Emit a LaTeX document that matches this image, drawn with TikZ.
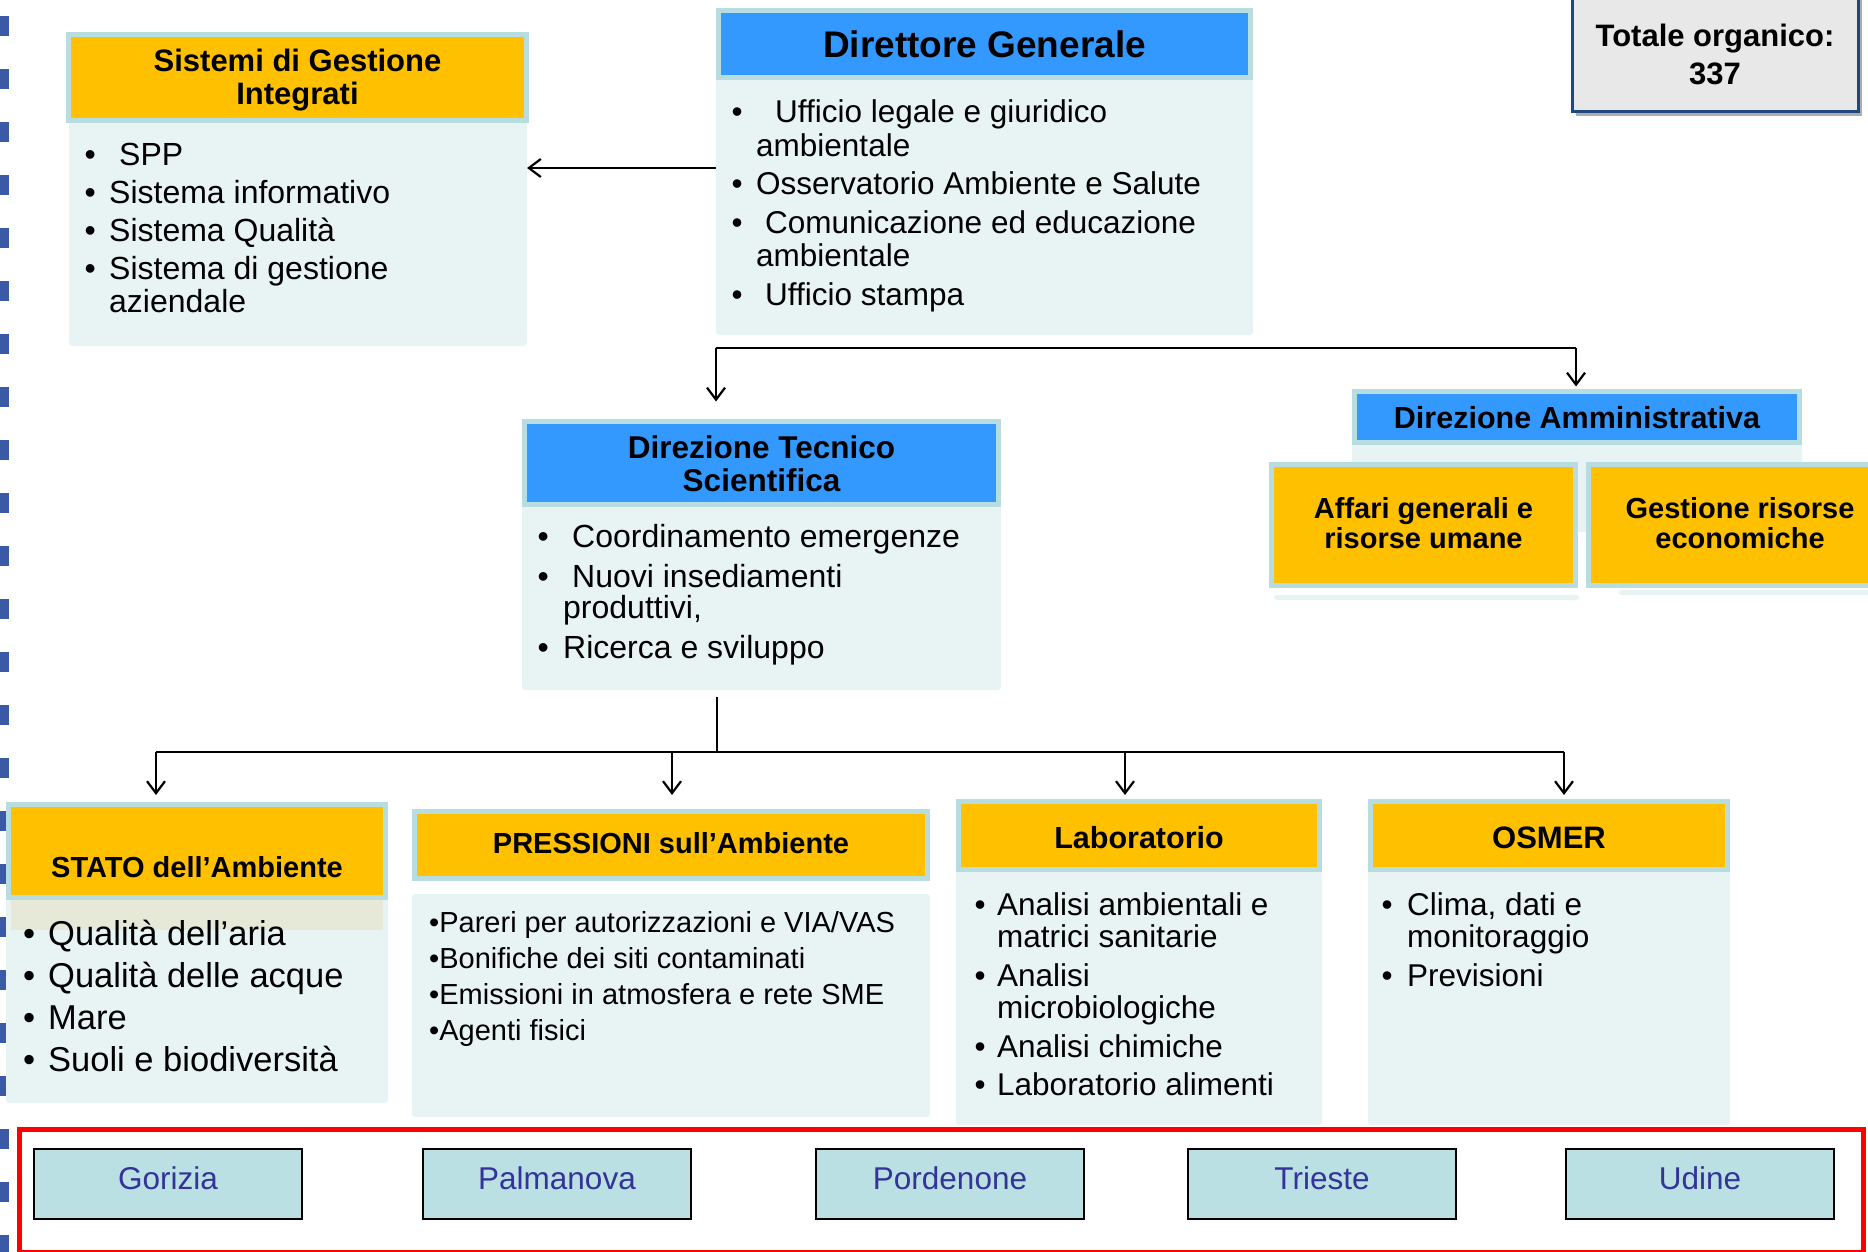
\documentclass[tikz,border=0pt]{standalone}
\usepackage{fontspec}
\setmainfont{Liberation Sans}
\usetikzlibrary{arrows.meta,shadows}
\definecolor{orng}{HTML}{FFC000}
\definecolor{blu}{HTML}{3399FF}
\definecolor{hbord}{HTML}{B7DDE0}
\definecolor{bodyc}{HTML}{E8F4F4}
\definecolor{cityc}{HTML}{BBE0E3}
\definecolor{cityt}{HTML}{333399}
\definecolor{totc}{HTML}{E8E8E8}
\definecolor{navy}{HTML}{1F497D}
\definecolor{sqc}{HTML}{3A5AA6}
\definecolor{stripc}{HTML}{E6E9D8}
\definecolor{redc}{HTML}{FF0000}
\newlength\bhang
\newcommand\bit[2]{\par\hangindent=\bhang\hangafter=1\noindent\makebox[\bhang][l]{•}\hspace*{#1}#2}
\newcommand\blist[5]{\parbox[t]{700pt}{\raggedright\fontsize{#1}{#2}\selectfont\setlength\parskip{#3}\setlength\bhang{#4}#5}}
\newcommand\ttwo[3]{\parbox[t]{500pt}{\centering\fontsize{#1}{#2}\selectfont\bfseries #3}}
\newcommand\bx[6]{\node[#2, minimum width={#5pt-#3pt}, minimum height={#6pt-#4pt}] (#1) at (#3,#4) {};}
\tikzset{
 box/.style={rectangle, inner sep=0pt, outer sep=0pt, anchor=north west},
 hdrO/.style={box, draw=hbord, line width=5pt, fill=orng},
 hdrB/.style={box, draw=hbord, line width=5pt, fill=blu},
 bodyb/.style={box, fill=bodyc, rounded corners=3pt},
 stripb/.style={box, fill=stripc},
 city/.style={box, draw=black, line width=2pt, fill=cityc, text=cityt,
   font=\fontsize{31.5}{36}\selectfont, text height=22pt, text depth=11pt,
   minimum width=268pt, minimum height=70pt},
 conn/.style={line width=2.2pt, draw=black},
 arr/.style={conn, -{Straight Barb[length=12pt,width=18pt,line width=2.2pt]}},
 ttl/.style={inner sep=0pt, anchor=base},
 lst/.style={inner sep=0pt, anchor=base west},
}
\begin{document}
\begin{tikzpicture}[x=1pt,y=-1pt]
\useasboundingbox (0,0) rectangle (1868,1252);
\fill[white] (0,0) rectangle (1868,1252);
% left edge marks
\foreach \k in {0,...,23} \fill[sqc] (0,{16+53*\k}) rectangle (9,{36+53*\k});

% bodies
\bx{sisB}{bodyb}{69}{120}{527}{346}
\bx{dgB}{bodyb}{716}{78}{1253}{335}
\bx{dtsB}{bodyb}{522}{505}{1001}{690}
\bx{daB}{bodyb}{1352}{443}{1802}{532}
\bx{afS}{bodyb}{1274}{595}{1579}{600}
\bx{geS}{bodyb}{1619}{590}{1880}{595}
\bx{stB}{bodyb}{6}{898}{388}{1103}
\bx{stS}{stripb}{11}{900}{383}{930}
\bx{prB}{bodyb}{412}{894}{930}{1117}
\bx{labB}{bodyb}{956}{870}{1322}{1125}
\bx{osB}{bodyb}{1368}{870}{1730}{1125}

% headers
\bx{sisH}{hdrO}{68.5}{34.5}{526.5}{120.5}
\bx{dgH}{hdrB}{718.5}{10.5}{1250.5}{77.5}
\bx{dtsH}{hdrB}{524.5}{421.5}{998.5}{504.5}
\bx{daH}{hdrB}{1354.5}{391.5}{1799.5}{442.5}
\bx{afH}{hdrO}{1271.5}{464.5}{1575.5}{585.5}
\bx{geH}{hdrO}{1588.5}{464.5}{1894}{585.5}
\bx{stH}{hdrO}{8.5}{804.5}{385.5}{897.5}
\bx{prH}{hdrO}{414.5}{811.5}{927.5}{878.5}
\bx{labH}{hdrO}{958.5}{801.5}{1319.5}{869.5}
\bx{osH}{hdrO}{1370.5}{801.5}{1727.5}{869.5}

% total box
\node[box, draw=navy, line width=3pt, fill=totc,
  drop shadow={shadow xshift=4pt, shadow yshift=-5pt, fill=black!32, opacity=1},
  minimum width=286pt, minimum height=121.5pt] (tot) at (1572,-10) {};
\node[ttl] (totT) at (1715,47) {\ttwo{31}{38}{Totale organico:\\337}};

% titles
\node[ttl] (sisT) at (297.5,72) {\ttwo{31}{33}{Sistemi di Gestione\\Integrati}};
\node[ttl] (dgT) at (984.5,58) {\fontsize{37}{44}\selectfont\bfseries Direttore Generale};
\node[ttl] (dtsT) at (761.5,458) {\ttwo{31.5}{33}{Direzione Tecnico\\Scientifica}};
\node[ttl] (daT) at (1577,428) {\fontsize{30.5}{36}\selectfont\bfseries Direzione Amministrativa};
\node[ttl] (afT) at (1423.5,518) {\ttwo{29}{30}{Affari generali e\\risorse umane}};
\node[ttl] (geT) at (1740,518) {\ttwo{29}{30}{Gestione risorse\\economiche}};
\node[ttl] (stT) at (197,877) {\fontsize{29}{34}\selectfont\bfseries STATO dell’Ambiente};
\node[ttl] (prT) at (671,853) {\fontsize{29}{34}\selectfont\bfseries PRESSIONI sull’Ambiente};
\node[ttl] (labT) at (1139,848) {\fontsize{30.5}{36}\selectfont\bfseries Laboratorio};
\node[ttl] (osT) at (1549,848) {\fontsize{31}{36}\selectfont\bfseries OSMER};

% lists
\node[lst] (sisL) at (84.5,166) {\blist{32}{33}{5pt}{24.5pt}{%
 \bit{10pt}{SPP}\bit{0pt}{Sistema informativo}\bit{0pt}{Sistema Qualità}%
 \bit{0pt}{Sistema di gestione\newline aziendale}}};
\node[lst] (dgL) at (731.5,123) {\blist{31.5}{33.5}{5pt}{24.5pt}{%
 \bit{19pt}{Ufficio legale e giuridico\newline ambientale}%
 \bit{0pt}{Osservatorio Ambiente e Salute}%
 \bit{9pt}{Comunicazione ed educazione\newline ambientale}%
 \bit{9pt}{Ufficio stampa}}};
\node[lst] (dtsL) at (537.5,547) {\blist{32}{31}{9pt}{25.5pt}{%
 \bit{9pt}{Coordinamento emergenze}%
 \bit{9pt}{Nuovi insediamenti\newline produttivi,}%
 \bit{0pt}{Ricerca e sviluppo}}};
\node[lst] (stL) at (23,945) {\blist{34.5}{42}{0pt}{25pt}{%
 \bit{0pt}{Qualità dell’aria}\bit{0pt}{Qualità delle acque}%
 \bit{0pt}{Mare}\bit{0pt}{Suoli e biodiversità}}};
\node[lst] (prL) at (429,932) {\blist{29}{36}{0pt}{0pt}{%
 •Pareri per autorizzazioni e VIA/VAS\\•Bonifiche dei siti contaminati\\%
 •Emissioni in atmosfera e rete SME\\•Agenti fisici}};
\node[lst] (labL) at (974.5,915) {\blist{31.5}{32.5}{6pt}{22.5pt}{%
 \bit{0pt}{Analisi ambientali e\newline matrici sanitarie}%
 \bit{0pt}{Analisi\newline microbiologiche}%
 \bit{0pt}{Analisi chimiche}\bit{0pt}{Laboratorio alimenti}}};
\node[lst] (osL) at (1381.5,915) {\blist{31.5}{32.5}{6pt}{25.5pt}{%
 \bit{0pt}{Clima, dati e\newline monitoraggio}\bit{0pt}{Previsioni}}};

% red frame and cities
\draw[redc, line width=5.5pt] (19.5,1129.5) rectangle (1863.5,1252.5);
\node[city] (gor) at (34,1149) {Gorizia};
\node[city] (pal) at (423,1149) {Palmanova};
\node[city] (por) at (816,1149) {Pordenone};
\node[city] (tri) at (1188,1149) {Trieste};
\node[city] (udi) at (1566,1149) {Udine};

% connectors
\coordinate (aY) at (0,168);
\draw[arr] (dgB.west |- aY) -- (sisB.east |- aY);
\coordinate (busL) at (716,348);
\coordinate (busR) at (1576,348);
\draw[conn] (busL) -- (busR);
\draw[arr, shorten >=20pt] (busL) -- (busL |- dtsH.north);
\draw[arr, shorten >=5pt] (busR) -- (busR |- daH.north);
\coordinate (tsJ) at (717,752);
\draw[conn, shorten <=7pt] (dtsB.south -| tsJ) -- (tsJ);
\coordinate (b1) at (156,752);
\coordinate (b2) at (672,752);
\coordinate (b3) at (1125,752);
\coordinate (b4) at (1564,752);
\draw[conn] (b1) -- (b4);
\draw[arr, shorten >=9.5pt] (b1) -- (b1 |- stH.north);
\draw[arr, shorten >=16.5pt] (b2) -- (b2 |- prH.north);
\draw[arr, shorten >=6.5pt] (b3) -- (b3 |- labH.north);
\draw[arr, shorten >=6.5pt] (b4) -- (b4 |- osH.north);
\end{tikzpicture}
\end{document}
